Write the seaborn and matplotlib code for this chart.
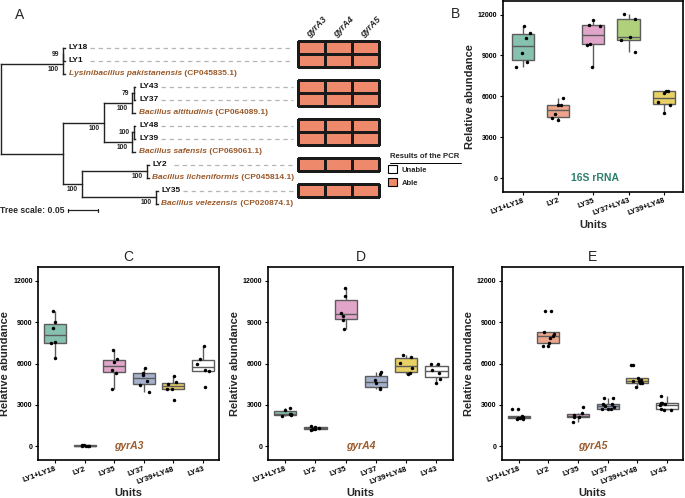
import numpy as np
import pandas as pd
import matplotlib.pyplot as plt
import seaborn as sns
from matplotlib.colors import ListedColormap, to_rgb
from matplotlib.lines import Line2D
from matplotlib.patches import Patch

sns.set_theme(style='white')
plt.rcParams['font.family'] = ['Liberation Sans', 'DejaVu Sans']
np.random.seed(7)

# ---- panel A: tree (label, branch length, children); internal labels = bootstrap ----
tree = ('', 0.0, [
    ('100', 0.103, [
        ('99', 0.001, [('LY18', 0.003, []), ('LY1', 0.003, [])]),
        ('Lysinibacillus pakistanensis (CP045835.1)', 0.004, []),
    ]),
    ('', 0.103, [
        ('100', 0.068, [
            ('100', 0.048, [
                ('79', 0.002, [('LY43', 0.003, []), ('LY37', 0.003, [])]),
                ('Bacillus altitudinis (CP064089.1)', 0.005, []),
            ]),
            ('100', 0.048, [
                ('100', 0.002, [('LY48', 0.003, []), ('LY39', 0.003, [])]),
                ('Bacillus safensis (CP069061.1)', 0.005, []),
            ]),
        ]),
        ('100', 0.032, [
            ('100', 0.108, [('LY2', 0.003, []),
                            ('Bacillus licheniformis (CP045814.1)', 0.003, [])]),
            ('100', 0.123, [('LY35', 0.003, []),
                            ('Bacillus velezensis (CP020874.1)', 0.003, [])]),
        ]),
    ]),
])
tree_scale = 0.05

pcr_genes = ['gyrA3', 'gyrA4', 'gyrA5']
pcr_samples = ['LY18', 'LY1', 'LY43', 'LY37', 'LY48', 'LY39', 'LY2', 'LY35']
pcr_able = [[1, 1, 1], [1, 1, 1], [1, 1, 1], [1, 1, 1],
            [1, 1, 1], [1, 1, 1], [1, 1, 1], [1, 1, 1]]

# ---- panel B: 16S rRNA ----
units_16s = ['LY1+LY18', 'LY2', 'LY35', 'LY37+LY43', 'LY39+LY48']
abund_16s = [
    [8150, 8540, 9170, 10270, 10660, 11140],
    [4270, 4410, 4680, 5370, 5370, 5850],
    [8150, 9800, 9850, 11170, 11240, 11630],
    [9220, 10120, 10370, 11710, 12020],
    [4800, 5390, 5560, 6240, 6410, 6410],
]

# ---- panels C-E: gyrA genes ----
units_gyr = ['LY1+LY18', 'LY2', 'LY35', 'LY37', 'LY39+LY48', 'LY43']
abund_gyrA3 = [
    [6370, 7490, 7570, 8550, 8990, 9840],
    [20, 35, 45, 50, 60, 70],
    [4140, 5310, 5560, 6100, 6300, 6980],
    [3920, 4460, 4700, 5190, 5310, 5680],
    [3360, 4160, 4160, 4530, 4650, 5070],
    [4280, 5460, 5560, 5930, 6340, 7270],
]
abund_gyrA4 = [
    [2160, 2230, 2330, 2350, 2640, 2760],
    [1200, 1230, 1260, 1320, 1390, 1490],
    [8520, 9120, 9480, 9650, 10920, 11450],
    [4130, 4200, 4560, 4800, 5230, 5350],
    [5230, 5330, 5640, 6050, 6480, 6600],
    [4560, 4870, 5330, 5520, 5930, 5930],
]
abund_gyrA5 = [
    [1970, 2000, 2030, 2060, 2090, 2120, 2170, 2690, 2690],
    [7260, 7300, 7460, 7870, 7980, 8110, 8300, 9840, 9840],
    [1780, 2090, 2090, 2280, 2380, 2810],
    [2670, 2690, 2720, 2850, 2910, 3030, 3060, 3510, 3510],
    [4330, 4560, 4620, 4700, 4740, 4810, 4930, 5890, 5890],
    [2640, 2640, 2690, 3000, 3030, 3100, 3130, 3630],
]

salmon = '#EE8A6B'
brown = '#9B5A2A'
teal_txt = '#2E7F6E'
cols_16s = ['#66C2A5', '#FC8D62', '#E78AC3', '#A6D854', '#FFD92F']
cols_gyr = ['#66C2A5', '#FC8D62', '#E78AC3', '#8DA0CB', '#FFD92F', '#FFFFFF']

W, H = 685, 498
fig = plt.figure(figsize=(6.85, 4.98), dpi=100)


def fbox(x0, y0, x1, y1):
    # pixel box -> figure fraction rect
    return [x0 / W, 1 - y1 / H, (x1 - x0) / W, (y1 - y0) / H]


# ---------------- Panel A ----------------
ax_t = fig.add_axes(fbox(0, 41.2, 298, 210.5))
ax_t.set_xlim(-1 / 600, 297 / 600)
ax_t.set_ylim(13, 0)
ax_t.axis('off')

leaves = []
supports = []
counter = [0]


def draw(node, x0):
    label, bl, kids = node
    x = x0 + bl
    if not kids:
        y = counter[0] + 0.5
        counter[0] += 1
        leaves.append((label, x, y))
    else:
        ys = [draw(k, x) for k in kids]
        y = (min(ys) + max(ys)) / 2
        ax_t.plot([x, x], [min(ys), max(ys)], color='#222222', lw=1.0,
                  solid_capstyle='projecting')
        if label:
            mid = all(not k[2] and '(' not in k[0] for k in kids)
            supports.append((label, x, y, mid))
    ax_t.plot([x0, x], [y, y], color='#222222', lw=1.0, solid_capstyle='projecting')
    return y


draw(tree, 0.0)

for lab, x, y, mid in supports:
    ax_t.text(x - 0.007, y if mid else y + 0.42, lab, ha='right', va='center',
              fontsize=4.8, fontweight='bold', color='#222222')

for name, x, y in leaves:
    if '(' in name:
        sp, acc = name.split(' (')
        t = ax_t.text(x + 0.006, y, sp, ha='left', va='center', fontsize=6,
                      fontweight='bold', fontstyle='italic', color=brown)
        ax_t.annotate(' (' + acc, xy=(1, 0.5), xycoords=t, ha='left', va='center',
                      fontsize=6, fontweight='bold', color=brown)
    else:
        ax_t.text(x + 0.006, y, name, ha='left', va='center', fontsize=6,
                  fontweight='bold', color='#111111')
        ax_t.plot([x + 0.042, 0.486], [y, y], color='#b5b5b5', lw=0.9,
                  ls=(0, (3.5, 3)))

# tree scale bar
ax_t.text(-1 / 600, 13.0, 'Tree scale: 0.05', ha='left', va='center',
          fontsize=6.2, fontweight='bold', clip_on=False)
ax_t.plot([0.112, 0.112 + tree_scale], [13.0, 13.0], color='#222222', lw=0.9, clip_on=False)
for xs in (0.112, 0.112 + tree_scale):
    ax_t.plot([xs, xs], [12.85, 13.15], color='#222222', lw=0.9, clip_on=False)

# PCR heatmap aligned with leaves (species rows left empty)
leaf_order = [l[0] for l in leaves]
pcr_df = pd.DataFrame(pcr_able, index=pcr_samples, columns=pcr_genes).reindex(leaf_order)
ax_h = fig.add_axes(fbox(298, 41.2, 379, 210.5))
sns.heatmap(pcr_df, ax=ax_h, cmap=ListedColormap(['white', salmon]), vmin=0, vmax=1,
            cbar=False, linewidths=0.8, linecolor='#1a1a1a', yticklabels=False)
mesh = ax_h.collections[0]
empty = pcr_df.isna().values.ravel()
mesh.set_edgecolor([(0, 0, 0, 0) if e else (0.1, 0.1, 0.1, 1) for e in empty])
mesh.set_clip_on(False)
ax_h.patch.set_visible(False)
ax_h.set_ylim(13, 0)
ax_h.xaxis.tick_top()
ax_h.tick_params(axis='x', length=0, pad=1.5)
ax_h.set_xticklabels(pcr_genes, rotation=45, ha='left', rotation_mode='anchor',
                     fontsize=6.3, fontweight='bold', fontstyle='italic')
ax_h.set_xlabel('')
ax_h.set_ylabel('')

fig.text(390 / W, 1 - 157 / H, 'Results of the PCR', fontsize=5.6, fontweight='bold',
         va='center', ha='left')
fig.add_artist(Line2D([390 / W, 461 / W], [1 - 163 / H] * 2, color='black', lw=0.7))
fig.legend(handles=[Patch(facecolor='white', edgecolor='black', lw=0.8),
                    Patch(facecolor=salmon, edgecolor='black', lw=0.8)],
           labels=['Unable', 'Able'], loc='upper left',
           bbox_to_anchor=(388 / W, 1 - 165 / H), frameon=False,
           prop={'weight': 'bold', 'size': 5.5}, handlelength=1.2, handleheight=1.3,
           labelspacing=0.55, handletextpad=0.6, borderaxespad=0, borderpad=0)

fig.text(20 / W, 1 - 15 / H, 'A', fontsize=10, ha='center', va='center')
fig.text(456 / W, 1 - 14 / H, 'B', fontsize=10, ha='center', va='center')


# ---------------- Box panels ----------------
def lighten(c, f=0.15):
    r = np.array(to_rgb(c))
    return tuple(r + (1 - r) * f)


def box_panel(ax, units, values, colors, gene, gene_color, gene_x, italic, width):
    df = pd.DataFrame({'Units': np.repeat(units, [len(v) for v in values]),
                       'abund': np.concatenate(values)})
    sns.boxplot(data=df, x='Units', y='abund', hue='Units', order=units,
                hue_order=units, palette=[lighten(c) for c in colors], width=width,
                showfliers=False, showcaps=False, linewidth=1.0, linecolor='#5c5c5c',
                legend=False, ax=ax)
    sns.stripplot(data=df, x='Units', y='abund', order=units, color='black',
                  size=2.5, jitter=0.22, ax=ax)
    ax.set_ylim(-1000, 13000)
    ax.set_xlim(-0.57, len(units) - 0.45)
    ax.set_yticks([0, 3000, 6000, 9000, 12000])
    ax.set_yticklabels(['0', '3000', '6000', '9000', '12000'], fontsize=5,
                       fontweight='bold')
    ax.set_xticks(range(len(units)))
    ax.set_xticklabels(units, rotation=20, ha='right', rotation_mode='anchor',
                       fontsize=5.5, fontweight='bold')
    ax.tick_params(axis='both', direction='out', length=2.5, width=0.8, pad=1.5,
                   left=True, bottom=True, colors='black')
    for s in ax.spines.values():
        s.set_color('black')
        s.set_linewidth(1.2)
    ax.set_ylabel('Relative abundance', fontsize=8, fontweight='bold', labelpad=2)
    ax.set_xlabel('Units', fontsize=8, fontweight='bold', labelpad=2)
    ax.text(gene_x, 0, gene, ha='center', va='center', fontsize=7.5, fontweight='bold',
            fontstyle='italic' if italic else 'normal', color=gene_color)


ax_b = fig.add_axes(fbox(503, 1, 683, 191.7))
box_panel(ax_b, units_16s, abund_16s, cols_16s, '16S rRNA', teal_txt, 2.05, False, 0.63)

ax_c = fig.add_axes(fbox(38.3, 267, 219, 460))
box_panel(ax_c, units_gyr, abund_gyrA3, cols_gyr, 'gyrA3', brown, 2.5, True, 0.74)
ax_c.set_title('C', fontsize=10, pad=4)

ax_d = fig.add_axes(fbox(268, 267, 453, 460))
box_panel(ax_d, units_gyr, abund_gyrA4, cols_gyr, 'gyrA4', brown, 2.5, True, 0.74)
ax_d.set_title('D', fontsize=10, pad=4)

ax_e = fig.add_axes(fbox(502, 267, 683, 460))
box_panel(ax_e, units_gyr, abund_gyrA5, cols_gyr, 'gyrA5', brown, 2.5, True, 0.74)
ax_e.set_title('E', fontsize=10, pad=4)

fig.savefig('out.png', dpi=100)
